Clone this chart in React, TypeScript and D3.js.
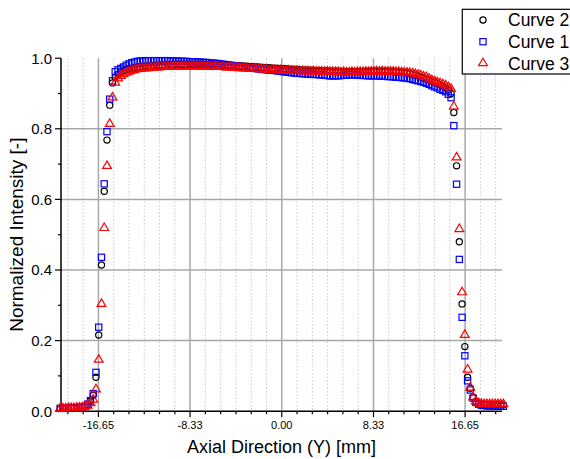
import React from 'react';
import * as d3 from 'd3';

// Axial positions (mm)
const axialY: number[] = [
  -20.125, -19.875, -19.625, -19.375, -19.125, -18.875, -18.625, -18.375, -18.125, -17.875,
  -17.625, -17.375, -17.125, -16.875, -16.625, -16.375, -16.125, -15.875, -15.625, -15.375,
  -15.125, -14.875, -14.625, -14.375, -14.125, -13.875, -13.625, -13.375, -13.125, -12.875,
  -12.625, -12.375, -12.125, -11.875, -11.625, -11.375, -11.125, -10.875, -10.625, -10.375,
  -10.125, -9.875, -9.625, -9.375, -9.125, -8.875, -8.625, -8.375, -8.125, -7.875,
  -7.625, -7.375, -7.125, -6.875, -6.625, -6.375, -6.125, -5.875, -5.625, -5.375,
  -5.125, -4.875, -4.625, -4.375, -4.125, -3.875, -3.625, -3.375, -3.125, -2.875,
  -2.625, -2.375, -2.125, -1.875, -1.625, -1.375, -1.125, -0.875, -0.625, -0.375,
  -0.125, 0.125, 0.375, 0.625, 0.875, 1.125, 1.375, 1.625, 1.875, 2.125,
  2.375, 2.625, 2.875, 3.125, 3.375, 3.625, 3.875, 4.125, 4.375, 4.625,
  4.875, 5.125, 5.375, 5.625, 5.875, 6.125, 6.375, 6.625, 6.875, 7.125,
  7.375, 7.625, 7.875, 8.125, 8.375, 8.625, 8.875, 9.125, 9.375, 9.625,
  9.875, 10.125, 10.375, 10.625, 10.875, 11.125, 11.375, 11.625, 11.875, 12.125,
  12.375, 12.625, 12.875, 13.125, 13.375, 13.625, 13.875, 14.125, 14.375, 14.625,
  14.875, 15.125, 15.375, 15.625, 15.875, 16.125, 16.375, 16.625, 16.875, 17.125,
  17.375, 17.625, 17.875, 18.125, 18.375, 18.625, 18.875, 19.125, 19.375, 19.625,
  19.875, 20.125,
];

// Curve 1 (blue squares)
const curve1: number[] = [
  0.008, 0.008, 0.009, 0.008, 0.009, 0.009, 0.010,
  0.010, 0.011, 0.014, 0.020, 0.030, 0.050,
  0.110, 0.238, 0.436, 0.644, 0.792, 0.884, 0.936,
  0.962, 0.967, 0.971, 0.975, 0.980, 0.984, 0.987, 0.989, 0.991,
  0.992, 0.992, 0.993, 0.993, 0.993, 0.993, 0.993, 0.993, 0.993, 0.993, 0.993, 0.992, 0.992, 0.992, 0.992, 0.991, 0.991, 0.991, 0.990, 0.990, 0.990,
  0.989, 0.989, 0.988, 0.988, 0.987, 0.986, 0.986, 0.985, 0.984, 0.983,
  0.982, 0.981, 0.980, 0.979, 0.978, 0.977, 0.976, 0.975, 0.974, 0.973,
  0.972, 0.971, 0.970, 0.969, 0.968, 0.967, 0.966, 0.966, 0.965, 0.964,
  0.963, 0.962, 0.961, 0.960, 0.959, 0.958, 0.957, 0.957, 0.956, 0.956,
  0.955, 0.955, 0.954, 0.954, 0.953, 0.953, 0.952, 0.951, 0.950, 0.950,
  0.950, 0.950, 0.951, 0.952, 0.952, 0.953, 0.953, 0.953, 0.952, 0.952,
  0.951, 0.951, 0.950, 0.950, 0.950, 0.950, 0.950, 0.949, 0.949, 0.948,
  0.948, 0.947, 0.946, 0.946, 0.945, 0.944, 0.943, 0.942, 0.940, 0.938,
  0.936, 0.934, 0.932, 0.929, 0.926, 0.922, 0.919, 0.916, 0.912, 0.909, 0.905, 0.898,
  0.888, 0.809, 0.643, 0.430, 0.266, 0.157, 0.086, 0.060, 0.037, 0.025,
  0.020, 0.017, 0.016, 0.015, 0.015, 0.014, 0.015, 0.014, 0.014, 0.014,
];

// Curve 2 (black circles)
const curve2: number[] = [
  0.008, 0.008, 0.008, 0.009, 0.009, 0.009, 0.010,
  0.010, 0.011, 0.013, 0.018, 0.028, 0.045,
  0.096, 0.216, 0.414, 0.623, 0.768, 0.867, 0.930,
  0.946, 0.955, 0.961, 0.965, 0.968, 0.970, 0.972, 0.973, 0.975,
  0.976, 0.977, 0.977, 0.978, 0.979, 0.979, 0.980, 0.980, 0.981, 0.981, 0.982, 0.982, 0.982, 0.983, 0.983, 0.983, 0.983, 0.983, 0.983, 0.983, 0.983,
  0.983, 0.983, 0.983, 0.982, 0.982, 0.982, 0.981, 0.981, 0.981, 0.980,
  0.980, 0.980, 0.979, 0.979, 0.978, 0.978, 0.978, 0.977, 0.977, 0.976,
  0.976, 0.975, 0.975, 0.974, 0.974, 0.973, 0.973, 0.972, 0.972, 0.971,
  0.971, 0.970, 0.970, 0.969, 0.969, 0.968, 0.968, 0.967, 0.967, 0.966,
  0.966, 0.966, 0.965, 0.965, 0.965, 0.964, 0.964, 0.964, 0.963, 0.963,
  0.963, 0.963, 0.962, 0.962, 0.962, 0.962, 0.962, 0.962, 0.962, 0.962,
  0.962, 0.962, 0.963, 0.963, 0.963, 0.963, 0.963, 0.963, 0.963, 0.962,
  0.962, 0.962, 0.961, 0.961, 0.960, 0.959, 0.958, 0.956, 0.954, 0.952,
  0.950, 0.947, 0.944, 0.941, 0.938, 0.935, 0.932, 0.929, 0.925, 0.921, 0.916, 0.910,
  0.900, 0.846, 0.695, 0.480, 0.304, 0.183, 0.096, 0.065, 0.040, 0.027,
  0.022, 0.020, 0.019, 0.018, 0.018, 0.018, 0.018, 0.018, 0.018, 0.018,
];

// Curve 3 (red triangles)
const curve3: number[] = [
  0.010, 0.010, 0.010, 0.011, 0.011, 0.011, 0.012,
  0.012, 0.013, 0.015, 0.018, 0.025, 0.035,
  0.064, 0.148, 0.306, 0.521, 0.697, 0.816, 0.891,
  0.933, 0.945, 0.952, 0.957, 0.961, 0.964, 0.967, 0.969, 0.971,
  0.972, 0.973, 0.973, 0.974, 0.975, 0.975, 0.976, 0.976, 0.977, 0.977, 0.978, 0.978, 0.978, 0.978, 0.979, 0.979, 0.979, 0.979, 0.979, 0.979, 0.979,
  0.979, 0.979, 0.979, 0.978, 0.978, 0.978, 0.978, 0.977, 0.977, 0.977,
  0.976, 0.976, 0.976, 0.975, 0.975, 0.974, 0.974, 0.973, 0.973, 0.972,
  0.972, 0.972, 0.971, 0.971, 0.970, 0.970, 0.969, 0.969, 0.968, 0.968,
  0.968, 0.967, 0.967, 0.967, 0.966, 0.966, 0.966, 0.965, 0.965, 0.965,
  0.965, 0.964, 0.965, 0.964, 0.964, 0.964, 0.963, 0.964, 0.963, 0.963,
  0.963, 0.963, 0.962, 0.963, 0.962, 0.962, 0.963, 0.962, 0.963, 0.963,
  0.963, 0.964, 0.963, 0.964, 0.964, 0.965, 0.964, 0.965, 0.964, 0.964,
  0.964, 0.964, 0.963, 0.963, 0.962, 0.962, 0.961, 0.960, 0.959, 0.957,
  0.955, 0.953, 0.950, 0.948, 0.944, 0.940, 0.937, 0.934, 0.931, 0.928, 0.925, 0.920,
  0.915, 0.865, 0.721, 0.518, 0.339, 0.218, 0.120, 0.069, 0.041, 0.030,
  0.025, 0.023, 0.022, 0.022, 0.022, 0.022, 0.022, 0.022, 0.022, 0.022,
];

const xMajorTicks: number[] = [-16.65, -8.33, 0, 8.33, 16.65];
const xTickLabels: string[] = ['-16.65', '-8.33', '0.00', '8.33', '16.65'];
const yMajorTicks: number[] = [0, 0.2, 0.4, 0.6, 0.8, 1.0];
const yMinorTicks: number[] = [0.1, 0.3, 0.5, 0.7, 0.9];
const legendNames: string[] = ['Curve 2', 'Curve 1', 'Curve 3'];

const FONT = '"Liberation Sans", Arial, Helvetica, sans-serif';

export default function App() {
  const W = 570, H = 459;
  const left = 61, right = 502, top = 58.2, bottom = 411.2;
  const x = d3.scaleLinear().domain([-20.05, 20.0]).range([left, right]);
  const y = d3.scaleLinear().domain([0, 1]).range([bottom, top]);

  // minor x ticks: 5 between each major (step = 8.33/6)
  const minorStep = 8.325 / 6;
  const xMinor: number[] = [];
  for (let k = -20; k <= 20; k++) {
    const v = k * minorStep;
    if (k % 6 === 0) continue;
    if (v < -20.05 || v > 20.0) continue;
    xMinor.push(v);
  }

  const pts = (vals: number[]) => vals.map((v, i) => [x(axialY[i]), y(v)] as [number, number]);
  const p2 = pts(curve2), p1 = pts(curve1), p3 = pts(curve3);

  const tri = (cx: number, cy: number) => `M${cx},${cy - 4.3} L${cx + 4.4},${cy + 3.2} L${cx - 4.4},${cy + 3.2} Z`;

  return (
    <svg width={W} height={H} style={{ position: 'absolute', left: 0, top: 0, background: '#fff' }}>
      <rect x={0} y={0} width={W} height={H} fill="#fff" />
      {/* minor vertical dotted grid */}
      {xMinor.map((v, i) => (
        <line key={'mg' + i} x1={x(v)} x2={x(v)} y1={top} y2={bottom} stroke="#c8c8c8" strokeWidth={1} strokeDasharray="1.5,2" />
      ))}
      {/* major vertical grid */}
      {xMajorTicks.map((v, i) => (
        <line key={'vg' + i} x1={x(v)} x2={x(v)} y1={top} y2={bottom} stroke="#a8a8a8" strokeWidth={1.5} />
      ))}
      {/* major horizontal grid */}
      {yMajorTicks.filter(v => v > 0 && v < 1).map((v, i) => (
        <line key={'hg' + i} x1={left} x2={right} y1={y(v)} y2={y(v)} stroke="#a8a8a8" strokeWidth={1.5} />
      ))}
      {/* axes */}
      <line x1={left} x2={left} y1={top} y2={bottom} stroke="#000" strokeWidth={1.5} />
      <line x1={left} x2={right} y1={bottom} y2={bottom} stroke="#000" strokeWidth={1.5} />
      {yMajorTicks.map((v, i) => (
        <line key={'yt' + i} x1={left - 6} x2={left} y1={y(v)} y2={y(v)} stroke="#000" strokeWidth={1.2} />
      ))}
      {yMinorTicks.map((v, i) => (
        <line key={'ymt' + i} x1={left - 3} x2={left} y1={y(v)} y2={y(v)} stroke="#000" strokeWidth={1.2} />
      ))}
      {xMajorTicks.map((v, i) => (
        <line key={'xt' + i} x1={x(v)} x2={x(v)} y1={bottom} y2={bottom + 6} stroke="#000" strokeWidth={1.2} />
      ))}
      {xMinor.map((v, i) => (
        <line key={'xmt' + i} x1={x(v)} x2={x(v)} y1={bottom} y2={bottom + 3} stroke="#000" strokeWidth={1.2} />
      ))}
      {/* tick labels */}
      {yMajorTicks.map((v, i) => (
        <text key={'yl' + i} x={left - 9} y={y(v)} dy="0.36em" textAnchor="end" fontFamily={FONT} fontSize={15} fill="#000">
          {v.toFixed(1)}
        </text>
      ))}
      {xMajorTicks.map((v, i) => (
        <text key={'xl' + i} x={x(v)} y={428.5} textAnchor="middle" fontFamily={FONT} fontSize={11} fill="#000">
          {xTickLabels[i]}
        </text>
      ))}
      {/* axis titles */}
      <text x={(left + right) / 2} y={452.5} textAnchor="middle" fontFamily={FONT} fontSize={18} fill="#000">
        Axial Direction (Y) [mm]
      </text>
      <text transform={`translate(23,${(top + bottom) / 2}) rotate(-90)`} textAnchor="middle" fontFamily={FONT} fontSize={19} fill="#000">
        Normalized Intensity [-]
      </text>
      {/* series */}
      <g>
        {p2.map(([cx, cy], i) => (
          <circle key={'c2' + i} cx={cx} cy={cy} r={3.1} fill="none" stroke="#000" strokeWidth={1.2} />
        ))}
      </g>
      <g>
        {p1.map(([cx, cy], i) => (
          <rect key={'c1' + i} x={cx - 3.1} y={cy - 3.1} width={6.2} height={6.2} fill="none" stroke="#0000ff" strokeWidth={1.2} />
        ))}
      </g>
      <g>
        {p3.map(([cx, cy], i) => (
          <path key={'c3' + i} d={tri(cx, cy)} fill="none" stroke="#ff0000" strokeWidth={1.2} />
        ))}
      </g>
      {/* legend */}
      <rect x={462.3} y={9.3} width={120} height={64.7} fill="#fff" stroke="#000" strokeWidth={1.2} />
      <circle cx={483} cy={20} r={3.1} fill="none" stroke="#000" strokeWidth={1.2} />
      <rect x={483 - 3.1} y={41.7 - 3.1} width={6.2} height={6.2} fill="none" stroke="#0000ff" strokeWidth={1.2} />
      <path d={tri(483, 62.5)} fill="none" stroke="#ff0000" strokeWidth={1.2} />
      {legendNames.map((n, i) => (
        <text key={'lg' + i} x={508} y={26 + i * 22} fontFamily={FONT} fontSize={17.5} fill="#000">
          {n}
        </text>
      ))}
    </svg>
  );
}
